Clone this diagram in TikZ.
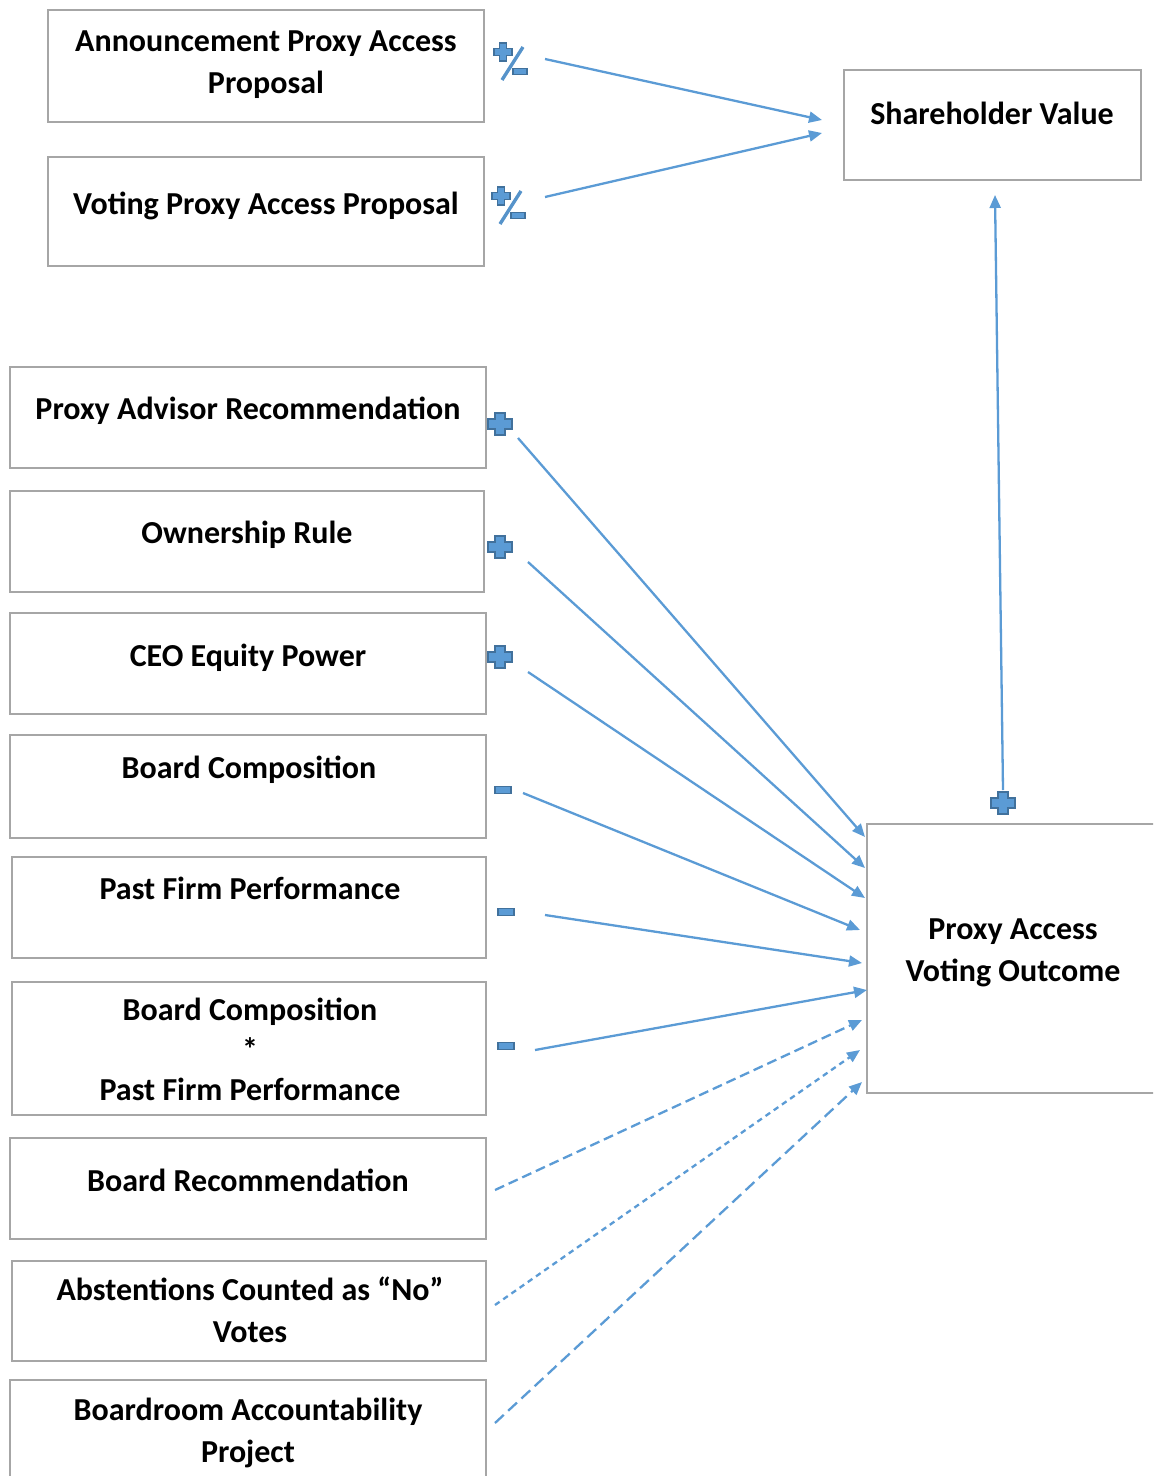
\documentclass[tikz,border=0pt]{standalone}
\usepackage{fontspec}
\setmainfont{Carlito}
\usetikzlibrary{arrows.meta,fit}
\definecolor{linkblue}{HTML}{5B9BD5}
\definecolor{signedge}{HTML}{41719C}
\definecolor{boxgray}{HTML}{A6A6A6}

\begin{document}
\begin{tikzpicture}[x=0.5pt,y=-0.5pt,
  box/.style={draw=boxgray,line width=1pt,inner sep=0pt},
  % multi-line labels are placed by the baseline of their last line
  lbl/.style={anchor=base,align=center,inner sep=0pt,
    font=\bfseries\fontsize{16}{21}\selectfont},
  link/.style={draw=linkblue,line width=1.15pt,
    -{Triangle[length=6.5pt,width=5.5pt]}},
  dashA/.style={link,dash pattern=on 5pt off 2.5pt},
  dashB/.style={link,dash pattern=on 2.8pt off 2.2pt},
  dashC/.style={link,dash pattern=on 6pt off 3pt},
  signpath/.style={fill=linkblue,draw=signedge,line width=0.6pt},
  psign/.pic={\path[signpath] (-12,-5) -- (-5,-5) -- (-5,-11) -- (5,-11)
      -- (5,-5) -- (12,-5) -- (12,5) -- (5,5) -- (5,11) -- (-5,11)
      -- (-5,5) -- (-12,5) -- cycle;},
  msign/.pic={\path[signpath] (-8,-3.5) rectangle (8,3.5);},
  pmsign/.pic={
    \path[signpath] (-9,-3.5) -- (-3.5,-3.5) -- (-3.5,-9) -- (3.5,-9)
      -- (3.5,-3.5) -- (9,-3.5) -- (9,3.5) -- (3.5,3.5) -- (3.5,9)
      -- (-3.5,9) -- (-3.5,3.5) -- (-9,3.5) -- cycle;
    \draw[linkblue!80!signedge,line width=1.7pt] (20,-5) -- (-1,28);
    \path[signpath] (10,16.5) rectangle (24,22.5);}
]
\useasboundingbox (0,0) rectangle (1153,1476);
\clip (0,0) rectangle (1153,1476);

% corner points of the boxes
\coordinate (ann1) at (48,10);   \coordinate (ann2) at (484,122);
\coordinate (vot1) at (48,157);  \coordinate (vot2) at (484,266);
\coordinate (shv1) at (844,70);  \coordinate (shv2) at (1141,180);
\coordinate (adv1) at (10,367);  \coordinate (adv2) at (486,468);
\coordinate (own1) at (10,491);  \coordinate (own2) at (484,592);
\coordinate (ceo1) at (10,613);  \coordinate (ceo2) at (486,714);
\coordinate (bcp1) at (10,735);  \coordinate (bcp2) at (486,838);
\coordinate (pfp1) at (12,857);  \coordinate (pfp2) at (486,958);
\coordinate (int1) at (12,982);  \coordinate (int2) at (486,1115);
\coordinate (brec1) at (10,1138); \coordinate (brec2) at (486,1239);
\coordinate (abst1) at (12,1261); \coordinate (abst2) at (486,1361);
\coordinate (bap1) at (10,1380); \coordinate (bap2) at (486,1500);
\coordinate (out1) at (867,824); \coordinate (out2) at (1180,1093);

% boxes
\node[box,fit=(ann1)(ann2)] (ann) {};
\node[box,fit=(vot1)(vot2)] (vot) {};
\node[box,fit=(shv1)(shv2)] (shv) {};
\node[box,fit=(adv1)(adv2)] (adv) {};
\node[box,fit=(own1)(own2)] (own) {};
\node[box,fit=(ceo1)(ceo2)] (ceo) {};
\node[box,fit=(bcp1)(bcp2)] (bcp) {};
\node[box,fit=(pfp1)(pfp2)] (pfp) {};
\node[box,fit=(int1)(int2)] (inter) {};
\node[box,fit=(brec1)(brec2)] (brec) {};
\node[box,fit=(abst1)(abst2)] (abst) {};
\node[box,fit=(bap1)(bap2)] (bap) {};
\node[box,fit=(out1)(out2)] (out) {};

% labels
\node[lbl] (annT) at (266,94) {Announcement Proxy Access\\Proposal};
\node[lbl] (votT) at (266,215) {Voting Proxy Access Proposal};
\node[lbl] (shvT) at (992,125) {Shareholder Value};
\node[lbl] (advT) at (248,419) {Proxy Advisor Recommendation};
\node[lbl] (ownT) at (247,543) {Ownership Rule};
\node[lbl] (ceoT) at (248,666) {CEO Equity Power};
\node[lbl] (bcpT) at (249,778) {Board Composition};
\node[lbl] (pfpT) at (250,899) {Past Firm Performance};
\node[lbl,font=\bfseries\fontsize{16}{19.8}\selectfont] (interT) at (250,1100)
  {Board Composition\\*\\Past Firm Performance};
\node[lbl] (brecT) at (248,1191) {Board Recommendation};
\node[lbl] (abstT) at (250,1342) {Abstentions Counted as “No”\\Votes};
\node[lbl] (bapT) at (248,1462) {Boardroom Accountability\\Project};
\node[lbl] (outT) at (1013,981) {Proxy Access\\Voting Outcome};

% signs
\pic (pm1) at (503,52) {pmsign};
\pic (pm2) at (501,196) {pmsign};
\pic (p1) at (500,424) {psign};
\pic (p2) at (500,547) {psign};
\pic (p3) at (500,657) {psign};
\pic (m1) at (503,790) {msign};
\pic (m2) at (506,912) {msign};
\pic (m3) at (506,1046) {msign};
\pic (p4) at (1003,803) {psign};

% connector end points
\coordinate (annS) at (545,59);   \coordinate (annE) at (822,120);
\coordinate (votS) at (545,197);  \coordinate (votE) at (822,133);
\coordinate (outS) at (1003,790); \coordinate (shvE) at (995,195);
\coordinate (advS) at (518,438);  \coordinate (advE) at (865,837);
\coordinate (ownS) at (528,562);  \coordinate (ownE) at (865,868);
\coordinate (ceoS) at (528,672);  \coordinate (ceoE) at (865,898);
\coordinate (bcpS) at (523,793);  \coordinate (bcpE) at (860,930);
\coordinate (pfpS) at (545,915);  \coordinate (pfpE) at (862,963);
\coordinate (interS) at (535,1050); \coordinate (interE) at (867,990);
\coordinate (brecS) at (495,1190); \coordinate (brecE) at (862,1020);
\coordinate (abstS) at (495,1305); \coordinate (abstE) at (860,1050);
\coordinate (bapS) at (495,1423);  \coordinate (bapE) at (862,1082);

% connectors
\draw[link] (annS) -- (annE);
\draw[link] (votS) -- (votE);
\draw[link] (outS) -- (shvE);
\draw[link] (advS) -- (advE);
\draw[link] (ownS) -- (ownE);
\draw[link] (ceoS) -- (ceoE);
\draw[link] (bcpS) -- (bcpE);
\draw[link] (pfpS) -- (pfpE);
\draw[link] (interS) -- (interE);
\draw[dashA] (brecS) -- (brecE);
\draw[dashB] (abstS) -- (abstE);
\draw[dashC] (bapS) -- (bapE);
\end{tikzpicture}
\end{document}
